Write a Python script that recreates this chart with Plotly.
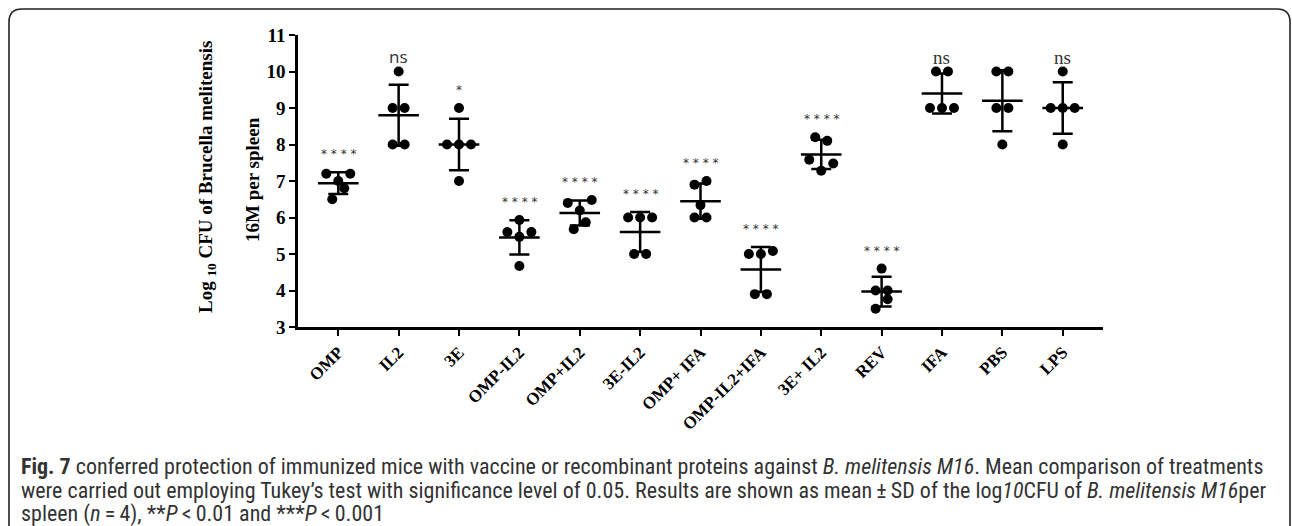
import numpy as np
import plotly.graph_objects as go

# ---------------- data ----------------
groups = ["OMP", "IL2", "3E", "OMP-IL2", "OMP+IL2", "3E-IL2", "OMP+ IFA",
          "OMP-IL2+IFA", "3E+ IL2", "REV", "IFA", "PBS", "LPS"]
v_omp = [7.0, 7.2, 7.2, 6.8, 6.5]
v_il2 = [10, 9, 9, 8, 8]
v_3e = [9, 8, 8, 8, 7]
v_omp_il2 = [5.93, 5.47, 5.6, 5.6, 4.67]
v_omp_plus_il2 = [6.19, 6.48, 6.4, 5.87, 5.68]
v_3e_il2 = [6, 6, 6, 5, 5]
v_omp_ifa = [7.0, 6.9, 6.34, 6.0, 6.0]
v_omp_il2_ifa = [5.0, 5.08, 5.0, 3.9, 3.9]
v_3e_plus_il2 = [8.1, 8.2, 7.28, 7.48, 7.58]
v_rev = [4.6, 4.0, 4.0, 3.76, 3.5]
v_ifa = [10, 10, 9, 9, 9]
v_pbs = [10, 10, 9, 9, 8]
v_lps = [10, 9, 9, 9, 8]
significance = ["* * * *", "ns", "*", "* * * *", "* * * *", "* * * *", "* * * *",
                "* * * *", "* * * *", "* * * *", "ns", "", "ns"]
y_ticks = [3, 4, 5, 6, 7, 8, 9, 10, 11]

values = [v_omp, v_il2, v_3e, v_omp_il2, v_omp_plus_il2, v_3e_il2, v_omp_ifa,
          v_omp_il2_ifa, v_3e_plus_il2, v_rev, v_ifa, v_pbs, v_lps]

# ---------------- layout geometry ----------------
FIG_W, FIG_H = 1292, 526
M_L, M_T = 298, 35
PLOT_W, PLOT_H = 805, 292
M_R = FIG_W - M_L - PLOT_W
M_B = FIG_H - M_T - PLOT_H
X_RANGE = [-0.667, 12.667]
Y_RANGE = [3, 11]
px_per_x = PLOT_W / (X_RANGE[1] - X_RANGE[0])


def px(x):
    return (x - M_L) / PLOT_W


def py(y):
    return (M_T + PLOT_H - y) / PLOT_H


# ---------------- scatter-dot layout (rows spread symmetrically) ----------------
SLOT_PX = 12.0
T = 0.305


def swarm_offsets(vals):
    order = sorted(range(len(vals)), key=lambda i: vals[i])
    bins, cur = [], []
    for i in order:
        if cur and vals[i] - vals[cur[0]] > T:
            bins.append(cur)
            cur = []
        cur.append(i)
    if cur:
        bins.append(cur)
    offs = [0.0] * len(vals)
    for b in bins:
        b = sorted(b)
        n = len(b)
        if n % 2:
            slots = [0]
            for k in range(1, n // 2 + 1):
                slots += [k, -k]
        else:
            slots = []
            for k in range(n // 2):
                slots += [k + 0.5, -(k + 0.5)]
        for idx, s in zip(b, slots):
            offs[idx] = s * SLOT_PX / px_per_x
    return offs


fig = go.Figure()

for gi, vals in enumerate(values):
    offs = swarm_offsets(vals)
    fig.add_trace(go.Scatter(
        x=[gi + o for o in offs], y=vals, mode="markers",
        marker=dict(color="black", size=10), showlegend=False, hoverinfo="y"))

means = [float(np.mean(v)) for v in values]
sds = [float(np.std(v, ddof=1)) for v in values]
xs = list(range(len(groups)))

# error bars (mean +/- SD)
fig.add_trace(go.Scatter(
    x=xs, y=means, mode="markers", marker=dict(size=2, color="black"),
    error_y=dict(type="data", array=sds, visible=True, color="black",
                 thickness=2.5, width=10),
    showlegend=False, hoverinfo="skip"))
# mean lines
fig.add_trace(go.Scatter(
    x=xs, y=means, mode="markers",
    marker=dict(symbol="line-ew", size=29, color="black",
                line=dict(color="black", width=2.5)),
    showlegend=False, hoverinfo="y"))

# significance labels
for gi, lab in enumerate(significance):
    if not lab:
        continue
    top = max(max(values[gi]), means[gi] + sds[gi])
    if lab == "ns":
        fam = "Open Sans, sans-serif" if gi == 1 else "Liberation Serif, serif"
        size = 17 if gi == 1 else 19
        color = "#333"
        ys = 2
    else:
        fam = "DejaVu Sans, sans-serif"
        size = 12
        color = "#333"
        ys = 9
    fig.add_annotation(x=gi, y=top, xref="x", yref="y", text=lab, showarrow=False,
                       yanchor="bottom", yshift=ys,
                       font=dict(family=fam, size=size, color=color))

# y-axis title (two lines)
title_font = dict(family="Liberation Serif, Times New Roman, serif", size=19,
                  color="black", weight="bold")
fig.add_annotation(x=px(207), y=py(177), xref="paper", yref="paper",
                   text="Log <sub>10</sub> CFU of Brucella melitensis",
                   textangle=-90, showarrow=False, font=title_font,
                   xanchor="center", yanchor="middle")
fig.add_annotation(x=px(252), y=py(180), xref="paper", yref="paper",
                   text="16M per spleen", textangle=-90, showarrow=False,
                   font=title_font, xanchor="center", yanchor="middle")

# caption
cap_font = dict(family="Liberation Sans Narrow, Roboto Condensed, Open Sans, sans-serif",
                size=22, color="#333")
cap_lines = [
    "<b>Fig. 7</b> conferred protection of immunized mice with vaccine or recombinant proteins against "
    "<i>B. melitensis M16</i>. Mean comparison of treatments",
    "were carried out employing Tukey\u2019s test with significance level of 0.05. Results are shown as mean\u2009\u00b1\u2009SD "
    "of the log<i>10</i>CFU of <i>B. melitensis M16</i>per",
    "spleen (<i>n</i>\u2009=\u20094), **<i>P</i>\u2009<\u20090.01 and ***<i>P</i>\u2009<\u20090.001",
]
for k, line in enumerate(cap_lines):
    fig.add_annotation(x=px(19), y=py(466 + 24 * k), xref="paper", yref="paper",
                       text=line, showarrow=False, xanchor="left", yanchor="middle",
                       align="left", font=cap_font)


# rounded frame
def frame_path():
    L, T0, R, B, r = 9, 9, 1290, 560, 13
    pts = [
        f"M {px(L)},{py(B)}",
        f"L {px(L)},{py(T0 + r)}",
        f"Q {px(L)},{py(T0)} {px(L + r)},{py(T0)}",
        f"L {px(R - r)},{py(T0)}",
        f"Q {px(R)},{py(T0)} {px(R)},{py(T0 + r)}",
        f"L {px(R)},{py(B)}",
    ]
    return " ".join(pts)


fig.add_shape(type="path", xref="paper", yref="paper", path=frame_path(),
              line=dict(color="#222", width=1.6))

axis_font = dict(family="Liberation Serif, Times New Roman, serif", color="black",
                 weight="bold")
fig.update_xaxes(range=X_RANGE, tickmode="array", tickvals=xs, ticktext=groups,
                 tickangle=-45, showline=True, linecolor="black", linewidth=2.5,
                 ticks="outside", ticklen=6, tickwidth=2, tickcolor="black",
                 showgrid=False, zeroline=False, tickfont=dict(size=17, **axis_font))
fig.update_yaxes(range=Y_RANGE, tickmode="array", tickvals=y_ticks,
                 showline=True, linecolor="black", linewidth=2.5,
                 ticks="outside", ticklen=6, tickwidth=2, tickcolor="black",
                 showgrid=False, zeroline=False, tickfont=dict(size=19, **axis_font))

fig.update_layout(width=FIG_W, height=FIG_H,
                  margin=dict(l=M_L, r=M_R, t=M_T, b=M_B, pad=0),
                  plot_bgcolor="white", paper_bgcolor="white", showlegend=False)

fig.write_html("out.html", config={"displayModeBar": False},
               post_script="document.body.style.margin='0';document.body.style.overflow='hidden';")
